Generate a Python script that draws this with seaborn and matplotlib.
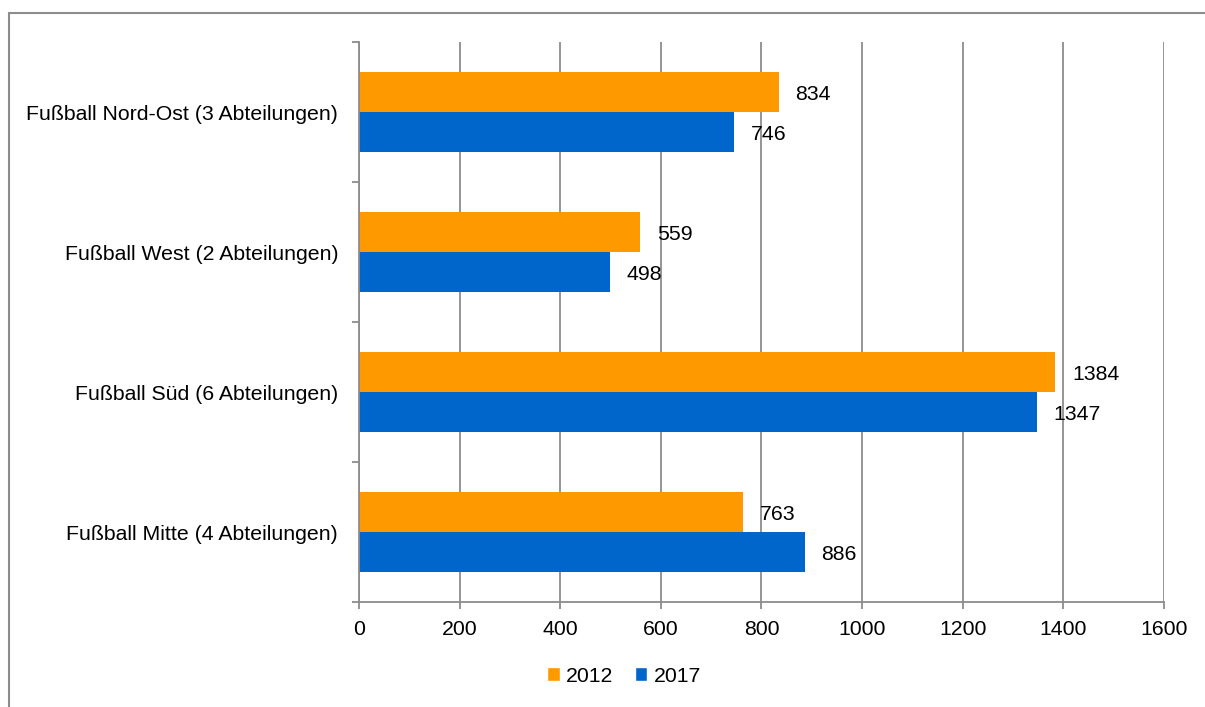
import pandas as pd
import matplotlib
matplotlib.use("Agg")
import matplotlib.pyplot as plt
import seaborn as sns
from matplotlib.lines import Line2D
from matplotlib.patches import Patch

# --- Daten ---
kategorien = ["Fußball Nord-Ost (3 Abteilungen)", "Fußball West (2 Abteilungen)",
              "Fußball Süd (6 Abteilungen)", "Fußball Mitte (4 Abteilungen)"]
jahre = ["2012", "2017"]
werte_2012 = [834, 559, 1384, 763]
werte_2017 = [746, 498, 1347, 886]
farben = {"2012": "#FF9900", "2017": "#0066CC"}

df = pd.DataFrame({
    "Kategorie": kategorien * 2,
    "Jahr": ["2012"] * 4 + ["2017"] * 4,
    "Wert": werte_2012 + werte_2017,
})

sns.set_style("white")
plt.rcParams["font.family"] = ["Liberation Sans", "DejaVu Sans"]
plt.rcParams["text.color"] = "black"
plt.rcParams["xtick.color"] = "black"
plt.rcParams["ytick.color"] = "black"

fs = 15.3

fig = plt.figure(figsize=(12.05, 7.07), dpi=100)
ax = fig.add_axes([359 / 1205, 1 - 602 / 707, 805 / 1205, 560 / 707])

sns.barplot(data=df, y="Kategorie", x="Wert", hue="Jahr", order=kategorien,
            hue_order=jahre, palette=farben, orient="h", width=0.572,
            saturation=1, linewidth=0, ax=ax, legend=False)

# Werte rechts neben den Balken (leicht nach unten versetzt wie im Original)
for c in ax.containers:
    labels = ax.bar_label(c, padding=12, fontsize=fs, color="black")
    for t in labels:
        t.set_y(t.get_position()[1])
        t.xyann = (t.xyann[0], -2)

# --- Achsen ---
ax.set_xlim(0, 1600)
ax.set_xticks(range(0, 1601, 200))
ax.set_ylim(3.5, -0.5)
ax.set_xlabel("")
ax.set_ylabel("")
ax.grid(axis="x", color="#8c8c8c", linewidth=1.3)
ax.set_axisbelow(True)
for s in ["top", "right"]:
    ax.spines[s].set_visible(False)
for s in ["left", "bottom"]:
    ax.spines[s].set_color("#8c8c8c")
    ax.spines[s].set_linewidth(1.3)

ax.set_yticks([i - 0.5 for i in range(5)], minor=True)
ax.tick_params(axis="y", which="major", length=0, pad=15, labelsize=fs, labelcolor="black")
ax.tick_params(axis="y", which="minor", length=5, width=1.3, color="#8c8c8c", left=True)
ax.tick_params(axis="x", length=5, width=1.3, color="#8c8c8c", pad=8, labelsize=fs,
               labelcolor="black", bottom=True)

# --- Legende ---
handles = [Patch(facecolor=farben[j], label=j) for j in jahre]
fig.legend(handles=handles, loc="center", bbox_to_anchor=(624 / 1205, 1 - 676 / 707),
           ncol=2, frameon=False, fontsize=fs, handlelength=0.6, handleheight=0.6,
           handletextpad=0.3, columnspacing=1.0)

# --- Rahmen ---
fig.add_artist(Line2D([9 / 1205, 9 / 1205], [0, 1 - 13 / 707], transform=fig.transFigure,
                      color="#8c8c8c", linewidth=1.5))
fig.add_artist(Line2D([9 / 1205, 1], [1 - 13 / 707, 1 - 13 / 707], transform=fig.transFigure,
                      color="#8c8c8c", linewidth=1.5))

fig.savefig("out.png", dpi=100)
